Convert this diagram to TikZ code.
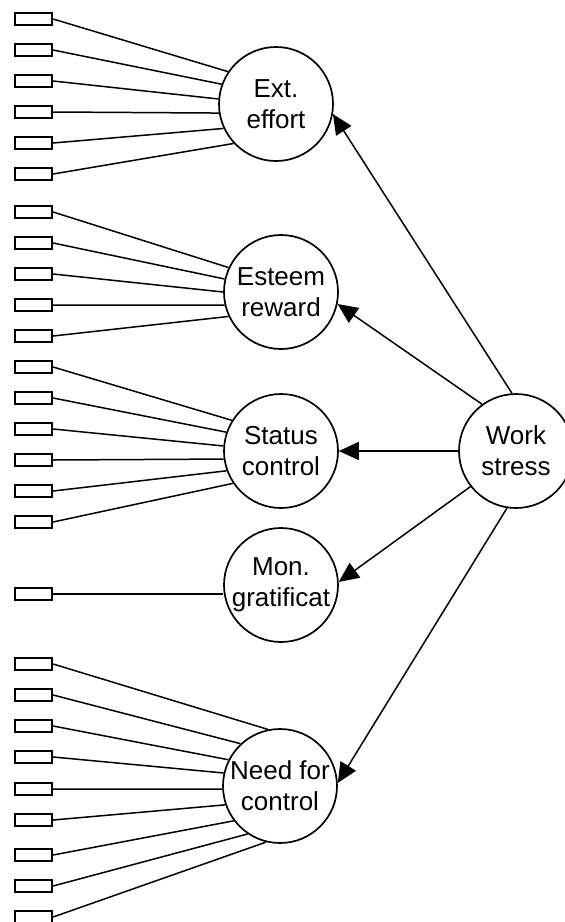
\documentclass[tikz,border=0pt]{standalone}
\usepackage{fontspec}
\setmainfont{Liberation Sans}
\usetikzlibrary{arrows.meta}

\begin{document}
\begin{tikzpicture}[x=0.5pt, y=-0.5pt,
  lv/.style={circle, draw, line width=0.85pt, minimum size=57pt, inner sep=0pt, align=center, font=\fontsize{13}{15.5}\selectfont},
  ob/.style={rectangle, draw, line width=1.1pt, minimum width=18.5pt, minimum height=6pt, inner sep=0pt},
  ln/.style={line width=0.75pt},
  arr/.style={-{Triangle[length=10pt, width=9pt]}, line width=0.75pt}
]
  \useasboundingbox (0,0) rectangle (564,922);
  % latent variables
  \node[lv] (ext) at (276,104) {Ext.\\effort};
  \node[lv] (est) at (281,292) {Esteem\\reward};
  \node[lv] (sta) at (281,451) {Status\\control};
  \node[lv] (mon) at (281,585) {Mon.\\gratificat};
  \node[lv] (nfc) at (280,786) {Need for\\control};
  \node[lv] (ws) at (516,451) {Work\\stress};
  % indicators
  \foreach \i in {0,...,5}{\node[ob] (e\i) at (33.5, 19+\i*31) {};}
  \foreach \i in {0,...,4}{\node[ob] (r\i) at (33.5, 212+\i*31) {};}
  \foreach \i in {0,...,5}{\node[ob] (s\i) at (33.5, 367+\i*31) {};}
  \node[ob] (m0) at (33.5,594) {};
  \foreach \i/\y in {0/664,1/695,2/726,3/757,4/789,5/820,6/855,7/886,8/917}{\node[ob] (c\i) at (33.5,\y) {};}
  % loadings
  \foreach \i/\a in {0/146,1/160,2/175,3/189,4/205,5/223}{\draw[ln] (e\i.east) -- (ext.\a);}
  \foreach \i/\a in {0/155,1/167,2/180,3/193,4/205}{\draw[ln] (r\i.east) -- (est.\a);}
  \foreach \i/\a in {0/148,1/161,2/175,3/188,4/200,5/214}{\draw[ln] (s\i.east) -- (sta.\a);}
  \draw[ln] (m0.east) -- (mon.west |- m0);
  \foreach \i/\a in {0/102,1/133,2/153,3/167,4/183,5/199,6/217,7/236,8/256}{\draw[ln] (c\i.east) -- (nfc.\a);}
  % structural paths
  \draw[arr] (ws.94) -- (ext.-10);
  \draw[arr] (ws.126) -- (est.-12);
  \draw[arr] (ws.west) -- (sta.east);
  \draw[arr] (ws.218) -- (mon.3);
  \draw[arr] (ws.261) -- (nfc.3);
\end{tikzpicture}
\end{document}
